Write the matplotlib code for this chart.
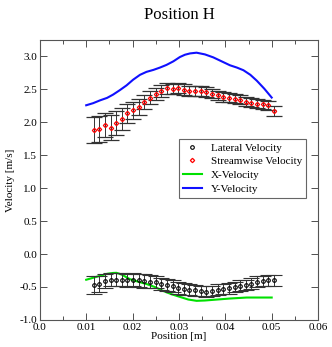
import numpy as np
import matplotlib
matplotlib.use("Agg")
import matplotlib.pyplot as plt
from matplotlib.ticker import MultipleLocator

plt.rcParams["font.family"] = ["Liberation Serif", "DejaVu Serif"]

# measured points (33 stations)
pos = np.linspace(0.0116, 0.0505, 33)

streamwise = [1.88, 1.90, 1.955, 1.92, 1.985, 2.05, 2.135, 2.18, 2.235, 2.31, 2.375,
              2.425, 2.48, 2.515, 2.505, 2.52, 2.495, 2.475, 2.475, 2.475, 2.46, 2.435,
              2.41, 2.385, 2.37, 2.36, 2.345, 2.31, 2.295, 2.28, 2.27, 2.255, 2.17]
streamwise_err = [0.20, 0.20, 0.18, 0.19, 0.18, 0.16, 0.14, 0.13, 0.12, 0.11, 0.10,
                  0.09, 0.09, 0.08, 0.08, 0.08, 0.08, 0.08, 0.07, 0.07, 0.07, 0.07,
                  0.07, 0.07, 0.07, 0.07, 0.07, 0.07, 0.07, 0.07, 0.07, 0.07, 0.075]

lateral = [-0.47, -0.45, -0.41, -0.39, -0.39, -0.39, -0.40, -0.39, -0.40, -0.41, -0.42,
           -0.43, -0.45, -0.47, -0.49, -0.51, -0.53, -0.54, -0.55, -0.56, -0.57, -0.56,
           -0.54, -0.53, -0.52, -0.50, -0.48, -0.47, -0.45, -0.42, -0.41, -0.40, -0.40]
lateral_err = [0.13, 0.12, 0.11, 0.10, 0.10, 0.10, 0.10, 0.10, 0.10, 0.10, 0.10,
               0.09, 0.09, 0.09, 0.09, 0.09, 0.09, 0.08, 0.08, 0.08, 0.08, 0.08,
               0.08, 0.08, 0.08, 0.08, 0.08, 0.08, 0.08, 0.08, 0.08, 0.08, 0.08]

# simulation lines
sim_x = [0.0100, 0.0115, 0.0130, 0.0145, 0.0158, 0.0172, 0.0187, 0.0201, 0.0216,
         0.0230, 0.0245, 0.0259, 0.0273, 0.0288, 0.0302, 0.0313, 0.0324, 0.0338,
         0.0356, 0.0374, 0.0392, 0.0410, 0.0425, 0.0439, 0.0454, 0.0468, 0.0484, 0.0500]
y_vel = [2.258, 2.29, 2.333, 2.37, 2.42, 2.485, 2.56, 2.645, 2.72,
         2.765, 2.795, 2.83, 2.87, 2.925, 2.99, 3.025, 3.045, 3.056,
         3.03, 2.985, 2.925, 2.865, 2.83, 2.79, 2.72, 2.63, 2.51, 2.375]

xv_x = [0.0100, 0.0115, 0.0130, 0.0145, 0.0158, 0.0165, 0.0176, 0.0194, 0.0212,
        0.0230, 0.0248, 0.0266, 0.0284, 0.0302, 0.0320, 0.0338, 0.0356, 0.0374,
        0.0410, 0.0446, 0.0500]
x_vel = [-0.39, -0.36, -0.33, -0.30, -0.287, -0.285, -0.31, -0.38, -0.42,
         -0.455, -0.50, -0.56, -0.61, -0.65, -0.69, -0.71, -0.705, -0.695,
         -0.675, -0.66, -0.66]

fig, ax = plt.subplots(figsize=(3.32, 3.47), dpi=100)
fig.subplots_adjust(left=0.12, right=0.958, top=0.885, bottom=0.078)

lat = ax.errorbar(pos, lateral, yerr=lateral_err, fmt="o", ms=2.6, mfc="none", mec="black",
                  mew=0.8, ecolor="#333333", elinewidth=0.7, capsize=5.5, capthick=0.7,
                  zorder=3)
stw = ax.errorbar(pos, streamwise, yerr=streamwise_err, fmt="D", ms=2.2, mfc="none", mec="red",
                  mew=0.9, ecolor="#333333", elinewidth=0.7, capsize=5.5, capthick=0.7,
                  zorder=3)
xl, = ax.plot(xv_x, x_vel, color="#00e000", lw=1.5, zorder=2)
yl, = ax.plot(sim_x, y_vel, color="#1010ff", lw=1.5, zorder=2)

ax.set_xlim(0.0, 0.06)
ax.set_ylim(-1.0, 3.25)
ax.xaxis.set_major_locator(MultipleLocator(0.01))
ax.xaxis.set_minor_locator(MultipleLocator(0.005))
ax.yaxis.set_major_locator(MultipleLocator(0.5))
ax.xaxis.set_major_formatter(plt.FuncFormatter(lambda v, _: f"{v:.2f}" if v > 0 else "0.0"))
ax.yaxis.set_major_formatter(plt.FuncFormatter(lambda v, _: f"{v:.1f}"))
ax.tick_params(direction="in", top=True, right=True, labelsize=8, length=5, width=0.6,
               pad=2, colors="#333333", labelcolor="black")
ax.tick_params(which="minor", direction="in", top=True, length=3, width=0.6, colors="#333333")
for s in ax.spines.values():
    s.set_color("#555555")
    s.set_linewidth(0.8)

ax.set_title("Position H", fontsize=12, pad=15)
ax.set_xlabel("Position [m]", fontsize=8, labelpad=0)
ax.set_ylabel("Velocity [m/s]", fontsize=8, labelpad=3)

leg = ax.legend([lat.lines[0], stw.lines[0], xl, yl],
                ["Lateral Velocity", "Streamwise Velocity", "X-Velocity", "Y-Velocity"],
                loc="upper left", bbox_to_anchor=(0.5, 0.646),
                fontsize=8, fancybox=False, framealpha=1, edgecolor="#666666",
                borderpad=0.35, labelspacing=0.35, handlelength=1.7, handletextpad=0.8,
                borderaxespad=0)
leg.get_frame().set_linewidth(0.8)

fig.savefig("out.png", dpi=100)
